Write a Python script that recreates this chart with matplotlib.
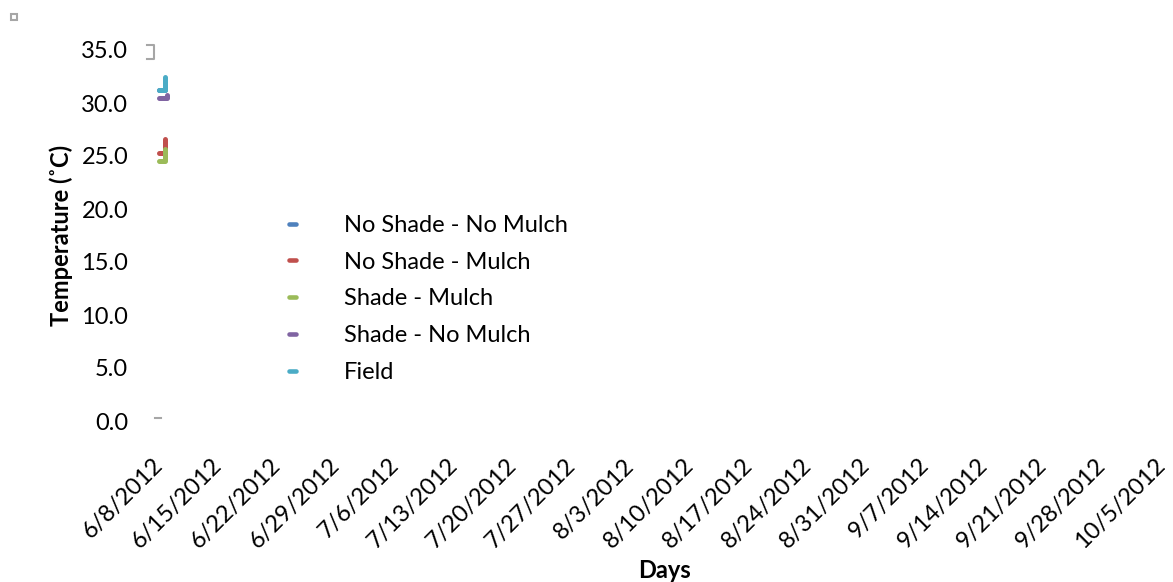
"""
soil temperature by treatment, first days of the 2012 season
"""
import numpy as np
import pandas as pd
import matplotlib
matplotlib.use("Agg")
import matplotlib.pyplot as plt
import matplotlib.dates as mdates
from matplotlib.lines import Line2D
from matplotlib.patches import Rectangle
from matplotlib.transforms import ScaledTranslation

plt.rcParams['font.family'] = ['Lato', 'DejaVu Sans']

# series (time, temperature in degC)
series_names = ["No Shade - No Mulch", "No Shade - Mulch", "Shade - Mulch",
                "Shade - No Mulch", "Field"]
series_colors = ["#4F81BD", "#C0504D", "#9BBB59", "#8064A2", "#4BACC6"]

nsnm_time = ["2012-06-07 14:00", "2012-06-08 07:00", "2012-06-08 07:00"]
nsnm_temp = [31.2, 31.2, 32.0]
nsm_time = ["2012-06-07 14:00", "2012-06-08 07:00", "2012-06-08 07:00"]
nsm_temp = [25.3, 25.3, 26.6]
sm_time = ["2012-06-07 14:00", "2012-06-08 07:00", "2012-06-08 07:00"]
sm_temp = [24.5, 24.5, 25.7]
snm_time = ["2012-06-07 14:00", "2012-06-08 12:00", "2012-06-08 12:00"]
snm_temp = [30.5, 30.5, 30.8]
field_time = ["2012-06-07 14:00", "2012-06-08 07:00", "2012-06-08 07:00"]
field_temp = [31.2, 31.2, 32.5]

x_start = "2012-06-08"
x_end = "2012-10-05"
y_ticks = [0, 5, 10, 15, 20, 25, 30, 35]


def main():
    W, H = 1173, 582
    fig = plt.figure(figsize=(W / 100, H / 100), dpi=100)
    ax = fig.add_axes([163 / W, (H - 421) / H, (1165 - 163) / W, (421 - 50) / H])

    times = [nsnm_time, nsm_time, sm_time, snm_time, field_time]
    temps = [nsnm_temp, nsm_temp, sm_temp, snm_temp, field_temp]
    for name, color, t, v in zip(series_names, series_colors, times, temps):
        ax.plot(pd.to_datetime(t), v, color=color, linewidth=3.6,
                solid_capstyle='round', solid_joinstyle='round', clip_on=False, label=name)

    ax.set_xlim(pd.Timestamp(x_start), pd.Timestamp(x_end))
    ax.set_ylim(0, 35)
    ax.set_yticks(y_ticks)
    ax.set_yticklabels([f"{v:.1f}" for v in y_ticks])
    ax.set_xticks(pd.date_range(x_start, x_end, freq="7D"))
    ax.xaxis.set_major_formatter(mdates.DateFormatter("%-m/%-d/%Y"))

    for s in ax.spines.values():
        s.set_visible(False)
    ax.tick_params(axis='both', length=0, labelsize=17)
    ax.tick_params(axis='y', pad=25)
    ax.tick_params(axis='x', pad=17)
    # rotated date labels, nudged left/down to sit like the original
    shift = ScaledTranslation(-0.11, -0.10, fig.dpi_scale_trans)
    for label in ax.get_xticklabels():
        label.set_rotation(45)
        label.set_ha('right')
        label.set_rotation_mode('anchor')
        label.set_transform(label.get_transform() + shift)

    ax.set_ylabel("Temperature (˚C)", fontsize=17, fontweight='bold')
    ax.yaxis.set_label_coords(-0.09, 0.5)
    ax.set_xlabel("Days", fontsize=17, fontweight='bold')
    ax.xaxis.set_label_coords(0.5, -0.373)

    handles = [Line2D([0], [0], color=c, linewidth=3.3, solid_capstyle='round')
               for c in series_colors]
    fig.legend(handles, series_names, loc='upper left', bbox_to_anchor=(289 / W, 1 - 215 / H),
               frameon=False, fontsize=17, handlelength=0.28, handletextpad=2.05,
               labelspacing=0.665, borderpad=0, borderaxespad=0)

    # stray grey marks from the original chart
    grey = "#a6a6a6"

    def px(x, y):
        return x / W, 1 - y / H

    for seg in [[(147, 45), (154, 45), (154, 59), (147, 59)], [(155, 418), (161, 418)]]:
        xs, ys = zip(*[px(*p) for p in seg])
        fig.add_artist(Line2D(xs, ys, color=grey, linewidth=1.5))
    fig.add_artist(Rectangle(px(11, 20), 6 / W, 6 / H, fill=False, edgecolor=grey, linewidth=1.5))

    fig.savefig("out.png", dpi=100)


if __name__ == "__main__":
    main()
